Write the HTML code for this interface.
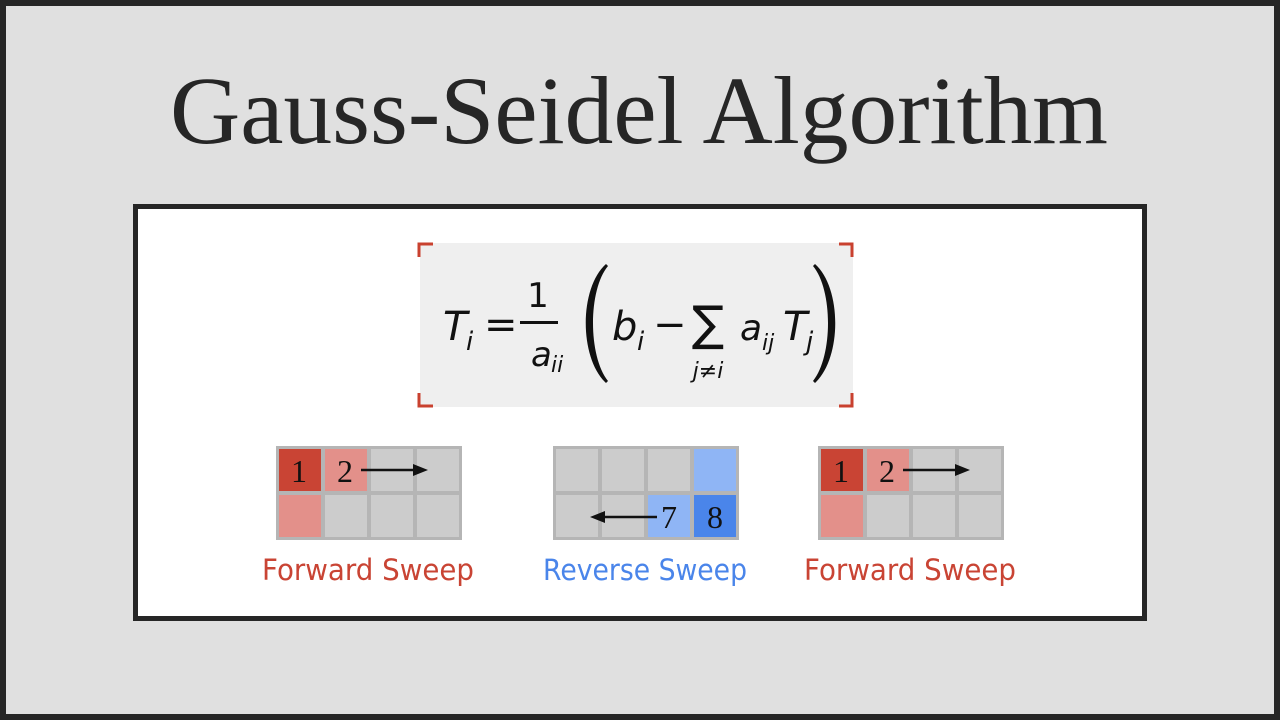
<!DOCTYPE html>
<html><head><meta charset="utf-8"><style>
html,body{margin:0;padding:0;width:1280px;height:720px;overflow:hidden;background:#e0e0e0}
</style></head><body>
<svg width="1280" height="720" viewBox="0 0 1280 720" xmlns="http://www.w3.org/2000/svg">
<rect x="3" y="3" width="1274" height="714" fill="#e0e0e0" stroke="#262626" stroke-width="6"/>
<text x="639" y="143" text-anchor="middle" font-family="Liberation Serif, serif" font-size="96" fill="#262626" textLength="938" lengthAdjust="spacingAndGlyphs">Gauss-Seidel Algorithm</text>
<rect x="135.5" y="206.5" width="1009" height="412" fill="#fff" stroke="#262626" stroke-width="5"/>
<rect x="420" y="243" width="433" height="164" fill="#efefef"/>
<g stroke="#c9412f" stroke-width="3" fill="none">
<path d="M419 257V244H433"/><path d="M839 244H852V257"/><path d="M419 393V406H433"/><path d="M839 406H852V393"/>
</g>
<g font-family="DejaVu Sans, sans-serif" fill="#111" font-style="oblique">
<text x="443" y="340" font-size="40">T</text><text x="466" y="350" font-size="26">i</text>
<text x="484" y="338" font-size="40" font-style="normal">=</text>
<text x="538" y="307" font-size="34" font-style="normal" text-anchor="middle">1</text>
<rect x="520" y="321" width="38" height="3" fill="#111"/>
<text x="531" y="366" font-size="34">a</text><text x="551" y="372" font-size="22">ii</text>
<path d="M606 264C579 288 579 358 606 383L608 381C588 356 588 290 608 266Z" fill="#111" stroke="none"/>
<text x="612" y="340" font-size="40">b</text><text x="637" y="350" font-size="26">i</text>
<text x="653" y="338" font-size="40" font-style="normal">−</text>
<text x="708" y="340" font-size="48" font-style="normal" text-anchor="middle" font-weight="normal">∑</text>
<text x="708" y="378" font-size="22" text-anchor="middle">j≠i</text>
<text x="740" y="340" font-size="36">a</text><text x="762" y="350" font-size="22">ij</text>
<text x="783" y="340" font-size="40">T</text><text x="806" y="350" font-size="26">j</text>
<path d="M815 264C842 288 842 358 815 383L813 381C833 356 833 290 813 266Z" fill="#111" stroke="none"/>
</g>
<g>
<rect x="276" y="446" width="186" height="94" fill="#b5b5b5"/>
<rect x="279" y="449" width="42" height="42" fill="#c94434"/>
<rect x="325" y="449" width="42" height="42" fill="#e3908a"/>
<rect x="371" y="449" width="42" height="42" fill="#cccccc"/>
<rect x="417" y="449" width="42" height="42" fill="#cccccc"/>
<rect x="279" y="495" width="42" height="42" fill="#e3908a"/>
<rect x="325" y="495" width="42" height="42" fill="#cccccc"/>
<rect x="371" y="495" width="42" height="42" fill="#cccccc"/>
<rect x="417" y="495" width="42" height="42" fill="#cccccc"/>
</g>
<g>
<rect x="818" y="446" width="186" height="94" fill="#b5b5b5"/>
<rect x="821" y="449" width="42" height="42" fill="#c94434"/>
<rect x="867" y="449" width="42" height="42" fill="#e3908a"/>
<rect x="913" y="449" width="42" height="42" fill="#cccccc"/>
<rect x="959" y="449" width="42" height="42" fill="#cccccc"/>
<rect x="821" y="495" width="42" height="42" fill="#e3908a"/>
<rect x="867" y="495" width="42" height="42" fill="#cccccc"/>
<rect x="913" y="495" width="42" height="42" fill="#cccccc"/>
<rect x="959" y="495" width="42" height="42" fill="#cccccc"/>
</g>
<g>
<rect x="553" y="446" width="186" height="94" fill="#b5b5b5"/>
<rect x="556" y="449" width="42" height="42" fill="#cccccc"/>
<rect x="602" y="449" width="42" height="42" fill="#cccccc"/>
<rect x="648" y="449" width="42" height="42" fill="#cccccc"/>
<rect x="694" y="449" width="42" height="42" fill="#8fb5f5"/>
<rect x="556" y="495" width="42" height="42" fill="#cccccc"/>
<rect x="602" y="495" width="42" height="42" fill="#cccccc"/>
<rect x="648" y="495" width="42" height="42" fill="#8fb5f5"/>
<rect x="694" y="495" width="42" height="42" fill="#4a85ea"/>
</g>
<g font-family="Liberation Serif, serif" font-size="32" fill="#111" text-anchor="middle">
<text x="299" y="482">1</text><text x="345" y="482">2</text>
<text x="841" y="482">1</text><text x="887" y="482">2</text>
<text x="669" y="528">7</text><text x="715" y="528">8</text>
</g>
<g stroke="#111" stroke-width="2.5" fill="#111">
<line x1="361" y1="470" x2="415" y2="470"/><path d="M428 470L413 464L413 476Z" stroke="none"/>
<line x1="903" y1="470" x2="957" y2="470"/><path d="M970 470L955 464L955 476Z" stroke="none"/>
<line x1="657" y1="517" x2="603" y2="517"/><path d="M590 517L605 511L605 523Z" stroke="none"/>
</g>
<g font-family="DejaVu Sans, sans-serif" font-size="29" text-anchor="middle">
<text x="368" y="580" fill="#c94434" textLength="212" lengthAdjust="spacingAndGlyphs">Forward Sweep</text>
<text x="645" y="580" fill="#4a85ea" textLength="204" lengthAdjust="spacingAndGlyphs">Reverse Sweep</text>
<text x="910" y="580" fill="#c94434" textLength="212" lengthAdjust="spacingAndGlyphs">Forward Sweep</text>
</g>
</svg>
</body></html>
